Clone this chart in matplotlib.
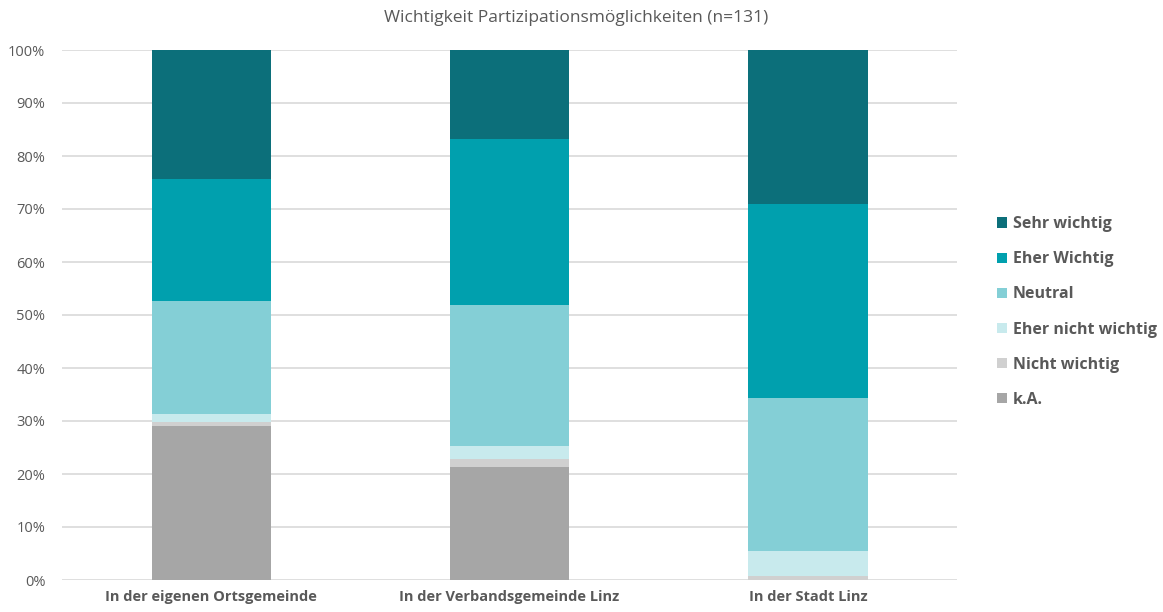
import matplotlib
matplotlib.use("Agg")
import matplotlib.pyplot as plt
import numpy as np

plt.rcParams['font.family'] = ['Open Sans', 'DejaVu Sans']

categories = ['In der eigenen Ortsgemeinde', 'In der Verbandsgemeinde Linz', 'In der Stadt Linz']
series = ['k.A.', 'Nicht wichtig', 'Eher nicht wichtig', 'Neutral', 'Eher Wichtig', 'Sehr wichtig']

# percent values, bottom to top
ka = [29.0, 21.4, 0.0]
nicht_wichtig = [0.8, 1.5, 0.8]
eher_nicht = [1.5, 2.3, 4.6]
neutral = [21.4, 26.7, 29.0]
eher_wichtig = [22.9, 31.3, 36.6]
sehr_wichtig = [24.4, 16.8, 29.0]

colors = ['#A6A6A6', '#D0D0D0', '#C8EAED', '#84CFD6', '#00A0AE', '#0C6F7A']

fig = plt.figure(figsize=(11.63, 6.12), dpi=100)
ax = fig.add_axes([62 / 1163, 32 / 612, (957 - 62) / 1163, 530 / 612])

x = np.arange(len(categories))
bottom = np.zeros(len(categories))
handles = []
for name, vals, col in zip(series, [ka, nicht_wichtig, eher_nicht, neutral, eher_wichtig, sehr_wichtig], colors):
    b = ax.bar(x, vals, 0.4, bottom=bottom, color=col, label=name, zorder=3)
    handles.append(b)
    bottom += np.array(vals)

ax.set_xlim(-0.5, 2.5)
ax.set_ylim(0, 100)
ax.set_yticks(np.arange(0, 101, 10))
ax.set_yticklabels([f'{v}%' for v in range(0, 101, 10)])
ax.yaxis.grid(True, color='#D9D9D9', linewidth=1.2, zorder=0)
for s in ax.spines.values():
    s.set_visible(False)
ax.tick_params(axis='both', length=0)
ax.tick_params(axis='y', labelsize=10.5, labelcolor='#595959', pad=12)
ax.set_xticks(x)
ax.set_xticklabels(categories, fontsize=10.5, fontweight='bold', color='#595959')
ax.tick_params(axis='x', pad=7)

fig.text(0.495, 1 - 18 / 612, 'Wichtigkeit Partizipationsmöglichkeiten (n=131)',
         ha='center', va='center', fontsize=12.5, color='#595959')

leg = fig.legend(handles[::-1], series[::-1], loc='center left',
                 bbox_to_anchor=(983 / 1163, 1 - 312 / 612), frameon=False,
                 handlelength=0.6, handleheight=0.6, handletextpad=0.35,
                 labelspacing=1.2, prop={'size': 11.5, 'weight': 'bold'})
for t in leg.get_texts():
    t.set_color('#595959')

fig.savefig('out.png', dpi=100)
